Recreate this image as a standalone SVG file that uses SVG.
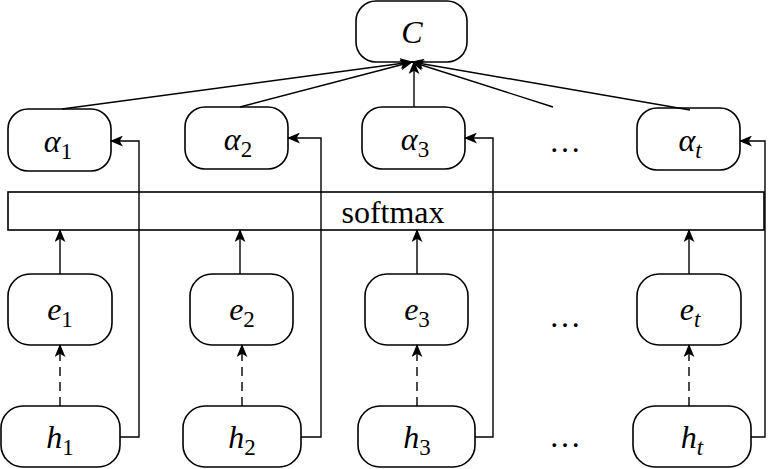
<svg xmlns="http://www.w3.org/2000/svg" width="778" height="469" viewBox="0 0 778 469">
<style>
.b{fill:#fff;stroke:#000;stroke-width:1.6}
.l{fill:none;stroke:#000;stroke-width:1.4}
.d{fill:none;stroke:#000;stroke-width:1.4;stroke-dasharray:9,6}
text{font-family:"Liberation Serif","Times New Roman",serif;font-size:32px;text-anchor:middle}
.i{font-style:italic}
.s{font-size:23px;font-style:normal}
.si{font-size:23px;font-style:italic}
</style>
<defs><marker id="a" viewBox="0 0 12 10" refX="11" refY="5" markerWidth="13" markerHeight="11" markerUnits="userSpaceOnUse" orient="auto"><path d="M0,0L12,5L0,10L3,5Z"/></marker></defs>
<g id="C"><rect class="b" x="356" y="1" width="111" height="61" rx="20"/><text class="i" x="412" y="43">C</text></g>
<g id="a1"><rect class="b" x="8" y="109" width="103" height="62" rx="20"/><text x="58" y="152"><tspan class="i">α</tspan><tspan class="s" dy="7">1</tspan></text></g>
<g id="a2"><rect class="b" x="185" y="107" width="103" height="62" rx="20"/><text x="238" y="150"><tspan class="i">α</tspan><tspan class="s" dy="7">2</tspan></text></g>
<g id="a3"><rect class="b" x="362" y="107" width="103" height="62" rx="20"/><text x="415" y="150"><tspan class="i">α</tspan><tspan class="s" dy="7">3</tspan></text></g>
<g id="adots"><text x="565" y="152">…</text></g>
<g id="at"><rect class="b" x="637" y="108" width="103" height="62" rx="20"/><text x="690" y="151"><tspan class="i">α</tspan><tspan class="si" dy="7">t</tspan></text></g>
<g id="softmax"><rect class="b" x="8" y="192" width="756" height="38"/><text x="393" y="223">softmax</text></g>
<g id="e1"><rect class="b" x="8" y="274" width="104" height="71" rx="22"/><text x="60" y="320"><tspan class="i">e</tspan><tspan class="s" dy="7">1</tspan></text></g>
<g id="e2"><rect class="b" x="190" y="274" width="103" height="71" rx="22"/><text x="242" y="320"><tspan class="i">e</tspan><tspan class="s" dy="7">2</tspan></text></g>
<g id="e3"><rect class="b" x="365" y="274" width="103" height="71" rx="22"/><text x="417" y="320"><tspan class="i">e</tspan><tspan class="s" dy="7">3</tspan></text></g>
<g id="edots"><text x="565" y="327">…</text></g>
<g id="et"><rect class="b" x="637" y="274" width="104" height="71" rx="22"/><text x="690" y="320"><tspan class="i">e</tspan><tspan class="si" dy="7">t</tspan></text></g>
<g id="h1"><rect class="b" x="1" y="406" width="119" height="61" rx="22"/><text x="60" y="448"><tspan class="i">h</tspan><tspan class="s" dy="7">1</tspan></text></g>
<g id="h2"><rect class="b" x="183" y="406" width="118" height="61" rx="22"/><text x="242" y="448"><tspan class="i">h</tspan><tspan class="s" dy="7">2</tspan></text></g>
<g id="h3"><rect class="b" x="358" y="406" width="117" height="61" rx="22"/><text x="417" y="448"><tspan class="i">h</tspan><tspan class="s" dy="7">3</tspan></text></g>
<g id="hdots"><text x="565" y="447">…</text></g>
<g id="ht"><rect class="b" x="633" y="406" width="118" height="61" rx="22"/><text x="692" y="448"><tspan class="i">h</tspan><tspan class="si" dy="7">t</tspan></text></g>
<g id="connectors">
<path class="l" marker-end="url(#a)" d="M62,109L412,62"/>
<path class="l" marker-end="url(#a)" d="M240,107L412,62"/>
<path class="l" marker-end="url(#a)" d="M414,107V62"/>
<path class="l" marker-end="url(#a)" d="M553,107L412,62"/>
<path class="l" marker-end="url(#a)" d="M690,110L412,62"/>
<path class="l" marker-end="url(#a)" d="M60,274V230"/>
<path class="l" marker-end="url(#a)" d="M240,274V230"/>
<path class="l" marker-end="url(#a)" d="M417,274V230"/>
<path class="l" marker-end="url(#a)" d="M689,274V230"/>
<path class="d" marker-end="url(#a)" d="M60,406V345"/>
<path class="d" marker-end="url(#a)" d="M242,406V345"/>
<path class="d" marker-end="url(#a)" d="M417,406V345"/>
<path class="d" marker-end="url(#a)" d="M689,406V345"/>
<path class="l" marker-end="url(#a)" d="M120,437H139V141H111"/>
<path class="l" marker-end="url(#a)" d="M301,437H321V138H288"/>
<path class="l" marker-end="url(#a)" d="M475,437H493V138H465"/>
<path class="l" marker-end="url(#a)" d="M751,437H765V141H740"/>
</g>
</svg>
